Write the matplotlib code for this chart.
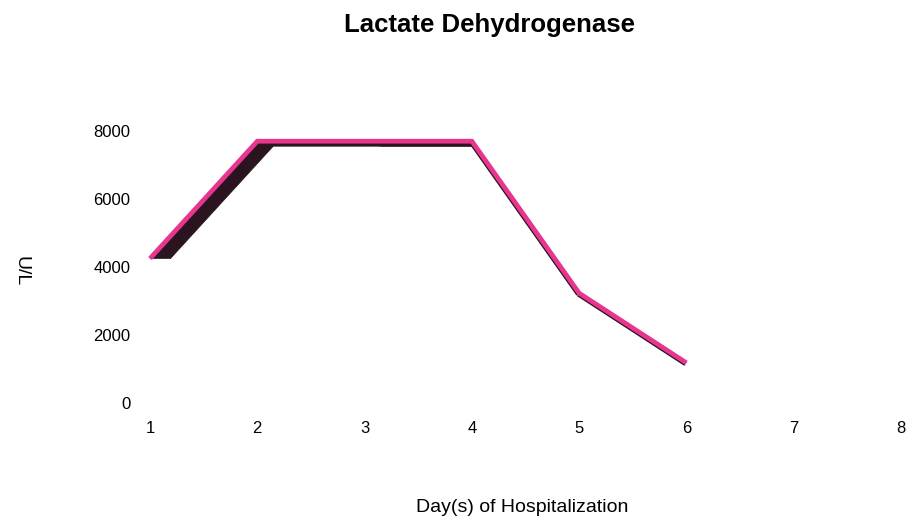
import numpy as np
import matplotlib
matplotlib.use("Agg")
import matplotlib.pyplot as plt
from matplotlib.patches import Polygon

plt.rcParams['font.family'] = ['Liberation Sans', 'DejaVu Sans']

days = [1, 2, 3, 4, 5, 6]
ldh = [4250, 7700, 7700, 7700, 3230, 1180]
x_ticks = [1, 2, 3, 4, 5, 6, 7, 8]
y_ticks = [0, 2000, 4000, 6000, 8000]

pink = '#e8358f'
dark = '#2a1420'

W, H = 918, 519
fig = plt.figure(figsize=(W / 100, H / 100), dpi=100)
ax = fig.add_axes([150 / W, (H - 403) / H, (901 - 150) / W, (403 - 131) / H])
ax.set_xlim(1, 8)
ax.set_ylim(0, 8000)
ax.set_xticks(x_ticks)
ax.set_yticks(y_ticks)
ax.tick_params(length=0, labelsize=12)
ax.tick_params(axis='x', pad=13)
ax.tick_params(axis='y', pad=14)
for s in ax.spines.values():
    s.set_visible(False)

# fake 3D ribbon: dark side face, only where it faces the viewer
off = np.array([16.0, -5.0])  # display px
pts = ax.transData.transform(np.column_stack([days, ldh]))
inv = ax.transData.inverted()
n = len(pts)
facing = []
for i in range(n - 1):
    d = pts[i + 1] - pts[i]
    facing.append(d[0] * off[1] - d[1] * off[0] < 0)
for i in range(n - 1):
    p0, p1 = pts[i], pts[i + 1]
    d = p1 - p0
    if facing[i]:
        start = p0 + off
        if i == 0 and d[1] > 0:
            # flat cut at the first point
            start = p0 + off + d * (-off[1] / d[1])
        end = p1 + off
        if i + 1 < n - 1 and not facing[i + 1]:
            end = p1 + np.array([0.0, off[1]])
        quad = inv.transform(np.array([p0, p1, end, start]))
        ax.add_patch(Polygon(quad, closed=True, facecolor=dark, edgecolor=dark,
                             lw=0.5, clip_on=False, zorder=2))
    else:
        edge = inv.transform(np.array([p0, p1]) + np.array([-1.0, -1.2]))
        ax.plot(edge[:, 0], edge[:, 1], color=dark, lw=3.0, clip_on=False,
                solid_capstyle='butt', zorder=2)

ax.plot(days, ldh, color=pink, lw=3.4, clip_on=False, solid_joinstyle='miter',
        solid_capstyle='butt', zorder=3)

fig.text(489 / W, 1 - 25 / H, 'Lactate Dehydrogenase', ha='center', va='center',
         fontsize=18.5, fontweight='bold')
fig.text(522 / W, 1 - 507 / H, 'Day(s) of Hospitalization', ha='center', va='center',
         fontsize=14)
fig.text(21 / W, 1 - 271 / H, 'U/L', ha='center', va='center', rotation=-90,
         fontsize=14)

fig.savefig('out.png', dpi=100)
